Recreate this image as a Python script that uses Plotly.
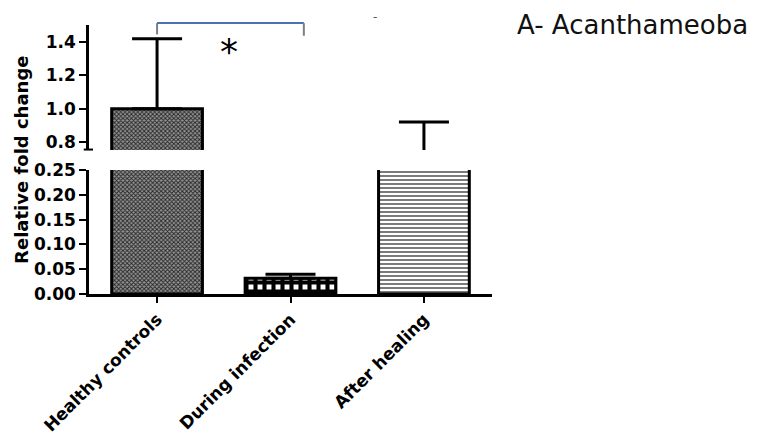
import plotly.graph_objects as go

categories = ["Healthy controls", "During infection", "After healing"]
mean_fold = [1.0, 0.032, 0.74]
sem_upper = [0.42, 0.008, 0.18]
sem_lower = [0.0, 0.0, 0.0]
lower_ticks = [0.0, 0.05, 0.10, 0.15, 0.20, 0.25]
upper_ticks = [0.8, 1.0, 1.2, 1.4]

FONT = "DejaVu Sans"
bold = dict(family=FONT, size=17, color="black", weight="bold")

# fill styles per bar (style only)
patterns = [
    dict(shape="x", size=3, solidity=0.55, fgcolor="#2a2a2a", bgcolor="#969696", fillmode="replace"),
    dict(shape="+", size=9, solidity=0.7, fgcolor="#000000", bgcolor="#ffffff", fillmode="replace"),
    dict(shape="-", size=4, solidity=0.5, fgcolor="#7a7a7a", bgcolor="#ffffff", fillmode="replace"),
]

traces = []
for yaxis in ("y", "y2"):
    for i, cat in enumerate(categories):
        traces.append(go.Bar(
            x=[cat], y=[mean_fold[i]], width=0.68,
            marker=dict(color=patterns[i]["bgcolor"],
                        line=dict(color="black", width=3), pattern=patterns[i]),
            error_y=dict(type="data", symmetric=False, array=[sem_upper[i]],
                         arrayminus=[sem_lower[i]], color="black", thickness=3, width=25),
            xaxis="x", yaxis=yaxis, showlegend=False, hoverinfo="skip",
        ))

fig = go.Figure(traces)

axis_common = dict(showline=True, linecolor="black", linewidth=2.5, ticks="outside",
                   ticklen=7, tickwidth=2, tickcolor="black", showgrid=False,
                   zeroline=False, tickfont=bold, automargin=False)

# page body has an 8px default margin, so the figure is sized to fit the window
fig.update_layout(
    width=766, height=429,
    margin=dict(l=81, r=282, t=17, b=143),
    plot_bgcolor="white", paper_bgcolor="white",
    barmode="overlay",
    xaxis=dict(type="category", categoryorder="array", categoryarray=categories,
               range=[-0.51, 2.51], showline=True, linecolor="black",
               linewidth=2.5, ticks="outside", ticklen=6, tickwidth=2, tickcolor="black",
               tickangle=-45, tickfont=bold, anchor="y", showgrid=False, automargin=False),
    yaxis=dict(domain=[0, 0.461], range=[0, 0.25], tickvals=lower_ticks,
               ticktext=[f"{v:.2f}" for v in lower_ticks], anchor="x", **axis_common),
    yaxis2=dict(domain=[0.535, 1], range=[0.752, 1.502], tickvals=upper_ticks,
                ticktext=[f"{v:.1f}" for v in upper_ticks], anchor="x", **axis_common),
)

# axis break mark
fig.add_shape(type="line", xref="paper", yref="paper", x0=-0.013, x1=0.01,
              y0=0.537, y1=0.537, line=dict(color="black", width=2))

# significance bracket between first two groups
fig.add_shape(type="line", xref="x", yref="paper", x0=0, x1=0, y0=0.965, y1=1.007,
              line=dict(color="#7a7f8a", width=2))
fig.add_shape(type="line", xref="x", yref="paper", x0=0, x1=1.1, y0=1.007, y1=1.007,
              line=dict(color="#4f6fb5", width=2))
fig.add_shape(type="line", xref="x", yref="paper", x0=1.1, x1=1.1, y0=1.007, y1=0.96,
              line=dict(color="#7a7f8a", width=2))
fig.add_annotation(text="*", x=0.54, xref="x", y=0.9, yref="paper", showarrow=False,
                   xanchor="center", yanchor="middle",
                   font=dict(family=FONT, size=36, color="black"))

fig.add_annotation(text="A- Acanthameoba", x=1.057, xref="paper", xanchor="left",
                   y=1.0, yref="paper", yanchor="middle", showarrow=False,
                   font=dict(family=FONT, size=26, color="#111111"))
fig.add_annotation(text="-", x=0.72, xref="paper", y=1.065, yref="paper",
                   showarrow=False, font=dict(family=FONT, size=12, color="#555555"))

fig.add_annotation(text="Relative fold change", textangle=-90, x=-0.169, xref="paper",
                   xanchor="center", y=0.498, yref="paper", yanchor="middle",
                   showarrow=False,
                   font=dict(family=FONT, size=18, color="black", weight="bold"))

fig.write_html("out.html")
